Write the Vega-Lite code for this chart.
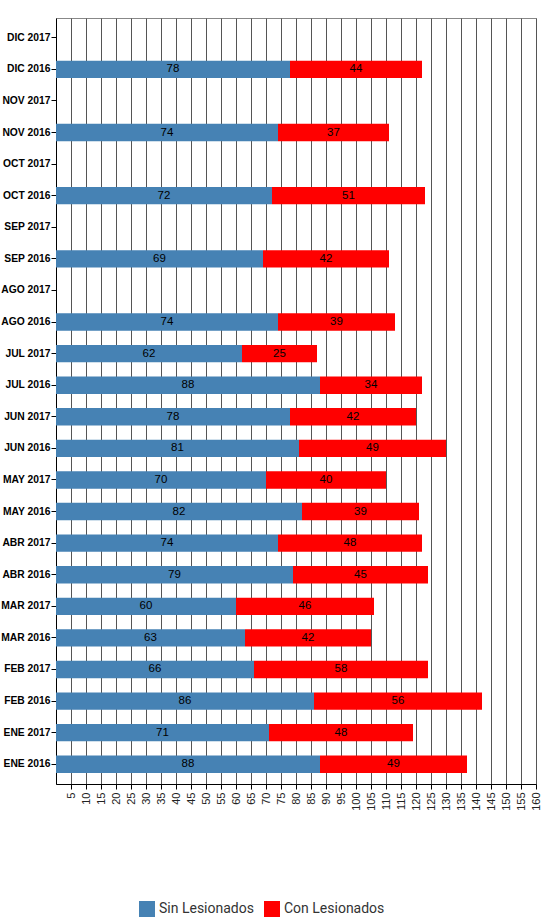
{
  "$schema": "https://vega.github.io/schema/vega-lite/v6.json",
  "width": 480,
  "height": 766,
  "padding": {"left": 0, "top": 18, "right": 5, "bottom": 0},
  "background": "white",
  "config": {
    "font": "Liberation Sans",
    "view": {"stroke": "#888", "strokeWidth": 1}
  },
  "data": {
    "values": [
      {"mes": "DIC 2016", "serie": "Sin Lesionados", "valor": 78},
      {"mes": "DIC 2016", "serie": "Con Lesionados", "valor": 44},
      {"mes": "NOV 2016", "serie": "Sin Lesionados", "valor": 74},
      {"mes": "NOV 2016", "serie": "Con Lesionados", "valor": 37},
      {"mes": "OCT 2016", "serie": "Sin Lesionados", "valor": 72},
      {"mes": "OCT 2016", "serie": "Con Lesionados", "valor": 51},
      {"mes": "SEP 2016", "serie": "Sin Lesionados", "valor": 69},
      {"mes": "SEP 2016", "serie": "Con Lesionados", "valor": 42},
      {"mes": "AGO 2016", "serie": "Sin Lesionados", "valor": 74},
      {"mes": "AGO 2016", "serie": "Con Lesionados", "valor": 39},
      {"mes": "JUL 2017", "serie": "Sin Lesionados", "valor": 62},
      {"mes": "JUL 2017", "serie": "Con Lesionados", "valor": 25},
      {"mes": "JUL 2016", "serie": "Sin Lesionados", "valor": 88},
      {"mes": "JUL 2016", "serie": "Con Lesionados", "valor": 34},
      {"mes": "JUN 2017", "serie": "Sin Lesionados", "valor": 78},
      {"mes": "JUN 2017", "serie": "Con Lesionados", "valor": 42},
      {"mes": "JUN 2016", "serie": "Sin Lesionados", "valor": 81},
      {"mes": "JUN 2016", "serie": "Con Lesionados", "valor": 49},
      {"mes": "MAY 2017", "serie": "Sin Lesionados", "valor": 70},
      {"mes": "MAY 2017", "serie": "Con Lesionados", "valor": 40},
      {"mes": "MAY 2016", "serie": "Sin Lesionados", "valor": 82},
      {"mes": "MAY 2016", "serie": "Con Lesionados", "valor": 39},
      {"mes": "ABR 2017", "serie": "Sin Lesionados", "valor": 74},
      {"mes": "ABR 2017", "serie": "Con Lesionados", "valor": 48},
      {"mes": "ABR 2016", "serie": "Sin Lesionados", "valor": 79},
      {"mes": "ABR 2016", "serie": "Con Lesionados", "valor": 45},
      {"mes": "MAR 2017", "serie": "Sin Lesionados", "valor": 60},
      {"mes": "MAR 2017", "serie": "Con Lesionados", "valor": 46},
      {"mes": "MAR 2016", "serie": "Sin Lesionados", "valor": 63},
      {"mes": "MAR 2016", "serie": "Con Lesionados", "valor": 42},
      {"mes": "FEB 2017", "serie": "Sin Lesionados", "valor": 66},
      {"mes": "FEB 2017", "serie": "Con Lesionados", "valor": 58},
      {"mes": "FEB 2016", "serie": "Sin Lesionados", "valor": 86},
      {"mes": "FEB 2016", "serie": "Con Lesionados", "valor": 56},
      {"mes": "ENE 2017", "serie": "Sin Lesionados", "valor": 71},
      {"mes": "ENE 2017", "serie": "Con Lesionados", "valor": 48},
      {"mes": "ENE 2016", "serie": "Sin Lesionados", "valor": 88},
      {"mes": "ENE 2016", "serie": "Con Lesionados", "valor": 49}
    ]
  },
  "transform": [
    {"stack": "valor", "groupby": ["mes"], "sort": [{"field": "serie", "order": "descending"}], "as": ["v0", "v1"]}
  ],
  "encoding": {
    "y": {
      "field": "mes",
      "type": "nominal",
      "scale": {
        "domain": ["DIC 2017", "DIC 2016", "NOV 2017", "NOV 2016", "OCT 2017", "OCT 2016", "SEP 2017", "SEP 2016", "AGO 2017", "AGO 2016", "JUL 2017", "JUL 2016", "JUN 2017", "JUN 2016", "MAY 2017", "MAY 2016", "ABR 2017", "ABR 2016", "MAR 2017", "MAR 2016", "FEB 2017", "FEB 2016", "ENE 2017", "ENE 2016"],
        "paddingInner": 0.45,
        "paddingOuter": 0.35
      },
      "axis": {
        "title": null,
        "labelFontWeight": "bold",
        "labelFontSize": 10.3,
        "labelColor": "#000",
        "domainColor": "#000",
        "tickColor": "#000",
        "tickSize": 5,
        "labelPadding": 1,
        "grid": false
      }
    }
  },
  "layer": [
    {
      "mark": {"type": "bar", "stroke": null},
      "encoding": {
        "x": {
          "field": "v0",
          "type": "quantitative",
          "scale": {"domain": [0, 160], "nice": false},
          "axis": {
            "title": null,
            "values": [5, 10, 15, 20, 25, 30, 35, 40, 45, 50, 55, 60, 65, 70, 75, 80, 85, 90, 95, 100, 105, 110, 115, 120, 125, 130, 135, 140, 145, 150, 155, 160],
            "tickCount": 40,
            "labelAngle": 270,
            "labelFontSize": 11,
            "labelColor": "#222",
            "labelOverlap": false,
            "labelBound": false,
            "grid": true,
            "gridColor": "#555",
            "gridOpacity": 1,
            "domainColor": "#000",
            "tickColor": "#000",
            "tickSize": 5,
            "labelPadding": 3
          }
        },
        "x2": {"field": "v1"},
        "color": {
          "field": "serie",
          "type": "nominal",
          "scale": {"domain": ["Sin Lesionados", "Con Lesionados"], "range": ["#4682B4", "#FF0000"]},
          "legend": {
            "title": null,
            "orient": "none",
            "legendX": 83,
            "legendY": 883,
            "direction": "horizontal",
            "symbolType": "square",
            "symbolSize": 256,
            "symbolStrokeWidth": 0,
            "labelFontSize": 14,
            "labelFont": "Roboto",
            "labelColor": "#333",
            "columnPadding": 10
          }
        }
      }
    },
    {
      "transform": [
        {"fold": ["v0", "v1"], "as": ["extremo", "pos"]},
        {"aggregate": [{"op": "mean", "field": "pos", "as": "centro"}], "groupby": ["mes", "serie", "valor"]}
      ],
      "mark": {"type": "text", "fontSize": 11.5, "color": "#000"},
      "encoding": {
        "x": {"field": "centro", "type": "quantitative"},
        "text": {"field": "valor", "type": "quantitative"}
      }
    }
  ]
}
